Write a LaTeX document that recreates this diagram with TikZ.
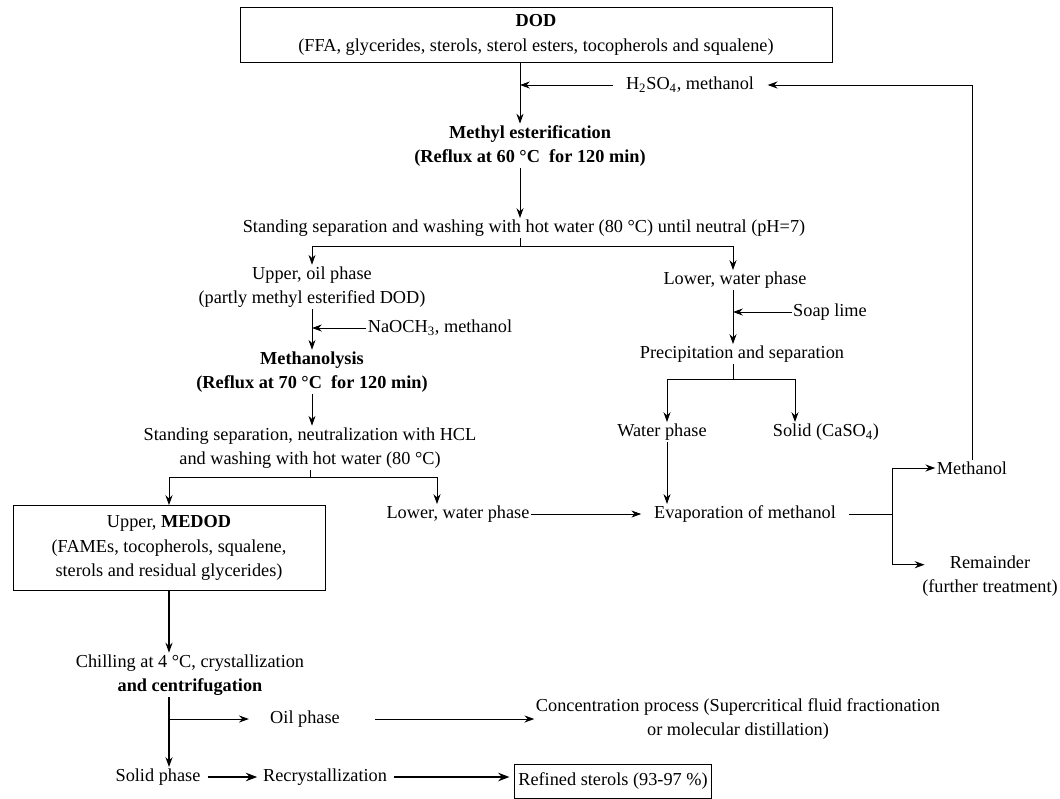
\documentclass[tikz,border=0pt]{standalone}
\usepackage{fontspec}
\setmainfont{Liberation Serif}
\usetikzlibrary{arrows.meta,calc}

\begin{document}
\begin{tikzpicture}[x=0.025cm, y=-0.025cm, >={Stealth[length=7pt,width=5pt]},
	every node/.style={font=\fontsize{13}{17.5}\selectfont, align=center, inner sep=1pt},
	box/.style={draw, line width=0.6pt, inner sep=3pt},
	flow/.style={->, line width=0.6pt},
	flowthick/.style={->, line width=1.1pt},
	heavy/.style={-{Stealth[length=8pt,width=6pt]}, line width=2pt, shorten <=4pt, shorten >=3pt}]
	
	\useasboundingbox (0,0) rectangle (1060,798);
	
	% guide lines
	\coordinate (mainx) at (520,0);
	\coordinate (rightx) at (733,0);
	
	% top: esterification
	\node[box, minimum width=14.8cm, minimum height=1.375cm] (dod) at (536,35)
	{\textbf{DOD}\\(FFA, glycerides, sterols, sterol esters, tocopherols and squalene)};
	\node (h2so) at (690,85) {H\textsubscript{2}SO\textsubscript{4}, methanol};
	\node (methest) at (530,146) {\textbf{Methyl esterification}\\\textbf{(Reflux at 60 °C~ for 120 min)}};
	\node (wash1) at (524,228) {Standing separation and washing with hot water (80 °C) until neutral (pH=7)};
	
	% left branch: methanolysis
	\node (upper1) at (312,287) {Upper, oil phase\\(partly methyl esterified DOD)};
	\node (naoch) at (440,328) {NaOCH\textsubscript{3}, methanol};
	\node (methanolysis) at (312,372) {\textbf{Methanolysis}\\\textbf{(Reflux at 70 °C~ for 120 min)}};
	\node (wash2) at (310,448) {Standing separation, neutralization with HCL\\and washing with hot water (80 °C)};
	\node[box, minimum width=7.8cm, minimum height=2.125cm] (medod) at (169,548)
	{Upper, \textbf{MEDOD}\\(FAMEs, tocopherols, squalene,\\sterols and residual glycerides)};
	\node (lower2) at (458,514) {Lower, water phase};
	
	% right branch: water phase
	\node (lower1) at (735,280) {Lower, water phase};
	\node (soap) at (830,312) {Soap lime};
	\node (precip) at (742,354) {Precipitation and separation};
	\node (waterph) at (662,432) {Water phase};
	\node (solid) at (826,432) {Solid (CaSO\textsubscript{4})};
	\node (evap) at (745,514) {Evaporation of methanol};
	\node (methanol) at (972,468) {Methanol};
	\node (remainder) at (990,576) {Remainder\\(further treatment)};
	
	% bottom: sterol recovery
	\node (chill) at (190,675) {Chilling at 4 °C, crystallization\\\textbf{and centrifugation}};
	\node (oilph) at (305,719) {Oil phase};
	\node (conc) at (738,719) {Concentration process (Supercritical fluid fractionation\\or molecular distillation)};
	\node (solidph) at (158,777) {Solid phase};
	\node (recryst) at (325,777) {Recrystallization};
	\node[box, minimum width=4.8cm, minimum height=0.85cm] (refined) at (613,781) {Refined sterols (93-97 \%)};
	
	% connectors, top
	\draw[flow] (dod.south -| mainx) -- (methest.north -| mainx);
	\draw[flow, shorten <=8pt] (h2so.west) -- (h2so.west -| mainx);
	\draw[flow] (methest.south -| mainx) -- (wash1.north -| mainx);
	\draw (wash1.south -| mainx) -- ++(0,8) coordinate (split1);
	\draw[flow] (split1) -| (upper1.north);
	\draw[flow] (split1) -| (lower1.north -| rightx);
	
	% connectors, left
	\draw[flow] (upper1.south) -- (upper1.south |- methanolysis.north);
	\draw[flow] (naoch.west) -- (naoch.west -| upper1.south);
	\draw[flow] (methanolysis.south) -- (methanolysis.south |- wash2.north);
	\draw (wash2.south) -- ++(0,7) coordinate (split2);
	\draw[flow] (split2) -| (medod.north);
	\draw[flow] (split2) -| ($(lower2.north)+(-21,0)$);
	\draw[flow, shorten >=8pt] (lower2.east) -- (lower2.east -| evap.west);
	
	% connectors, right
	\draw[flow] (lower1.south -| rightx) -- (precip.north -| rightx);
	\draw[flow] (soap.west) -- (soap.west -| rightx);
	\draw (precip.south -| rightx) -- ++(0,15) coordinate (split3);
	\draw[flow] (split3) -| (waterph.north -| 667,0);
	\draw[flow] (split3) -| ($(solid.north)+(-31,0)$);
	\draw[flow] (waterph.south -| 667,0) -- (evap.north -| 667,0);
	\draw[shorten <=8pt] (evap.east) -- ++(55,0) coordinate (split4);
	\draw[flow] (split4) |- (methanol.west);
	\draw[flow] (split4) |- ($(remainder.north west)+(4,11)$);
	\draw[flow] (methanol.north) |- ($(h2so.east)+(12,0)$);
	
	% connectors, bottom
	\draw[flowthick] (medod.south) -- (medod.south |- chill.north);
	\draw[flowthick] (medod.south |- chill.south) -- (medod.south |- solidph.north);
	\draw[flow, shorten >=14pt] (medod.south |- oilph) -- (oilph.west);
	\draw[flow, shorten <=24pt] (oilph.east) -- (oilph.east -| conc.west);
	\draw[heavy] (solidph.east) -- (recryst.west);
	\draw[heavy] (recryst.east) -- (recryst.east -| refined.west);
\end{tikzpicture}
\end{document}
